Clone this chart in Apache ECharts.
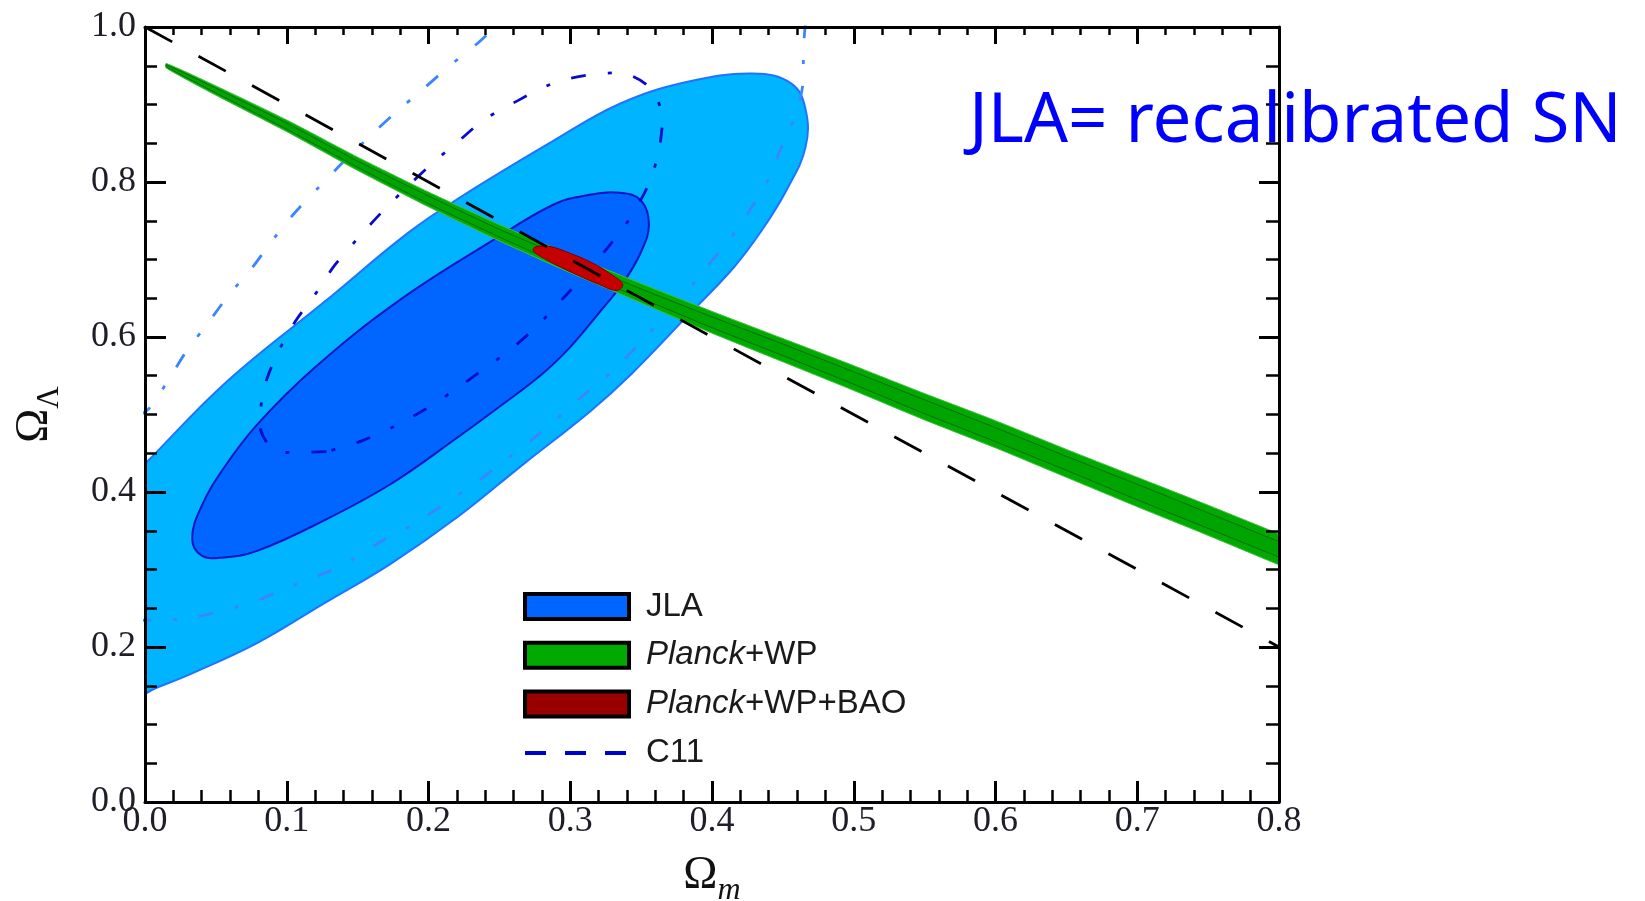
<!DOCTYPE html>
<html>
<head>
<meta charset="utf-8">
<title>Omega_m vs Omega_Lambda</title>
<script src="https://cdn.jsdelivr.net/npm/echarts@6/dist/echarts.min.js"></script>
<style>
  html, body { margin: 0; padding: 0; background: #ffffff; }
  #chart { width: 1645px; height: 901px; }
</style>
</head>
<body>
<div id="chart"></div>
<script>
// Axis ranges (Omega_m along x, Omega_Lambda along y)
const xRange = { min: 0, max: 0.8, step: 0.1 };
const yRange = { min: 0, max: 1.0, step: 0.2 };

// JLA 2-sigma contour (extends past the left edge, clipped by the grid)
const jlaOuter = [
  [-0.03, 0.380], [0.002, 0.440], [0.058, 0.543], [0.127, 0.646], [0.186, 0.735],
  [0.223, 0.781], [0.288, 0.853], [0.335, 0.901], [0.382, 0.929], [0.429, 0.940],
  [0.456, 0.927], [0.466, 0.894], [0.466, 0.845], [0.453, 0.791], [0.436, 0.740],
  [0.415, 0.689], [0.381, 0.624], [0.343, 0.552], [0.314, 0.504], [0.267, 0.436],
  [0.220, 0.367], [0.173, 0.307], [0.126, 0.256], [0.079, 0.205], [0.032, 0.165],
  [0.009, 0.148], [-0.03, 0.120], [-0.06, 0.260]
];

// JLA 1-sigma contour
const jlaInner = [
  [0.0400, 0.318], [0.0333, 0.340], [0.0400, 0.382], [0.0556, 0.431], [0.0791, 0.487],
  [0.1194, 0.560], [0.1784, 0.646], [0.2447, 0.724], [0.2883, 0.771], [0.3118, 0.783],
  [0.3353, 0.786], [0.3500, 0.776], [0.3555, 0.745], [0.3500, 0.710], [0.3377, 0.671],
  [0.3189, 0.628], [0.3000, 0.587], [0.2800, 0.552], [0.2500, 0.510], [0.2202, 0.470],
  [0.1731, 0.410], [0.1260, 0.363], [0.0791, 0.324], [0.0556, 0.3155]
];

// C11 1-sigma contour (closed)
const c11Inner = [
  [0.128, 0.452], [0.100, 0.451], [0.087, 0.462], [0.081, 0.487], [0.084, 0.534],
  [0.093, 0.577], [0.106, 0.620], [0.120, 0.655], [0.134, 0.693], [0.150, 0.727],
  [0.167, 0.761], [0.184, 0.792], [0.202, 0.823], [0.222, 0.854], [0.239, 0.880],
  [0.263, 0.905], [0.286, 0.926], [0.309, 0.937], [0.334, 0.941], [0.356, 0.922],
  [0.365, 0.881], [0.362, 0.836], [0.355, 0.796], [0.342, 0.753], [0.328, 0.719],
  [0.312, 0.684], [0.295, 0.650], [0.277, 0.615], [0.258, 0.584], [0.237, 0.556],
  [0.218, 0.531], [0.198, 0.507], [0.175, 0.484], [0.153, 0.466], [0.128, 0.452]
];

// C11 2-sigma contour: upper-left branch and right/lower branch (leaves the frame at the top)
const c11OuterLeft = [
  [-0.005, 0.498], [0.003, 0.508], [0.016, 0.543], [0.029, 0.581], [0.044, 0.617],
  [0.059, 0.654], [0.075, 0.688], [0.090, 0.725], [0.106, 0.761], [0.123, 0.794],
  [0.140, 0.826], [0.158, 0.858], [0.177, 0.890], [0.195, 0.918], [0.215, 0.950],
  [0.234, 0.978], [0.250, 1.005]
];
const c11OuterRight = [
  [0.466, 1.005], [0.4646, 0.976], [0.4642, 0.929], [0.4587, 0.886], [0.4481, 0.841],
  [0.4399, 0.804], [0.4258, 0.761], [0.4129, 0.727], [0.3953, 0.6885], [0.3824, 0.6585],
  [0.3635, 0.620], [0.348, 0.590], [0.330, 0.556], [0.307, 0.521], [0.291, 0.4956],
  [0.2719, 0.4656], [0.2519, 0.4377], [0.2319, 0.410], [0.2107, 0.384], [0.1896, 0.3585],
  [0.1673, 0.337], [0.1449, 0.3112], [0.125, 0.294], [0.1038, 0.279], [0.0791, 0.260],
  [0.0556, 0.247], [0.0274, 0.2363], [0.0062, 0.235], [-0.005, 0.234]
];

// Planck+WP band: sample positions with 2-sigma and 1-sigma edges
const planckX       = [0.015, 0.05, 0.10, 0.15, 0.20, 0.25, 0.30, 0.35, 0.40, 0.45, 0.50, 0.55, 0.60, 0.65, 0.70, 0.75, 0.80, 0.81];
const planckOuterHi = [0.953, 0.924, 0.880, 0.832, 0.787, 0.745, 0.706, 0.669, 0.633, 0.598, 0.563, 0.527, 0.492, 0.455, 0.419, 0.383, 0.346, 0.339];
const planckOuterLo = [0.947, 0.912, 0.865, 0.815, 0.768, 0.724, 0.683, 0.644, 0.605, 0.568, 0.531, 0.493, 0.457, 0.419, 0.381, 0.344, 0.306, 0.299];
const planckInnerHi = [0.9515, 0.921, 0.876, 0.827, 0.782, 0.739, 0.700, 0.662, 0.626, 0.591, 0.555, 0.519, 0.483, 0.446, 0.410, 0.373, 0.336, 0.329];
const planckInnerLo = [0.9485, 0.915, 0.868, 0.819, 0.772, 0.729, 0.688, 0.650, 0.612, 0.576, 0.539, 0.501, 0.465, 0.428, 0.390, 0.353, 0.316, 0.309];

// Planck+WP+BAO contour
const baoContour = [
  [0.275, 0.716], [0.285, 0.717], [0.300, 0.708], [0.315, 0.696], [0.328, 0.682],
  [0.337, 0.668], [0.333, 0.660], [0.320, 0.668], [0.305, 0.680], [0.290, 0.693],
  [0.280, 0.703], [0.274, 0.711]
];

// Flat universe line, Omega_m + Omega_Lambda = 1
const flatLine = [[0, 1], [0.8, 0.2]];

const legendNames = ['JLA', 'Planck+WP', 'Planck+WP+BAO', 'C11'];
const noteText = 'JLA= recalibrated SN';

// ring built from an upper and a lower edge
function bandRing(xs, hi, lo) {
  const ring = xs.map((x, i) => [x, hi[i]]);
  for (let i = xs.length - 1; i >= 0; i--) ring.push([xs[i], lo[i]]);
  return ring;
}

function areaSeries(name, ring, fill, stroke, width, z, smooth) {
  return {
    name: name,
    type: 'custom',
    coordinateSystem: 'cartesian2d',
    clip: true,
    silent: true,
    z: z,
    itemStyle: { color: fill },
    encode: { x: 0, y: 1 },
    data: ring,
    renderItem: function (params, api) {
      if (params.dataIndex !== 0) return null;
      const pts = ring.map(function (p) { return api.coord(p); });
      return {
        type: 'polygon',
        shape: { points: pts, smooth: smooth },
        style: { fill: fill, stroke: stroke, lineWidth: width }
      };
    }
  };
}

function contourLine(name, pts, color, z) {
  return {
    name: name,
    type: 'line',
    data: pts,
    smooth: 0.3,
    symbol: 'none',
    silent: true,
    clip: true,
    z: z,
    itemStyle: { color: color },
    lineStyle: { color: color, width: 2.8, type: [15, 22, 4, 22] }
  };
}

const serifFont = 'Liberation Serif';
const sansFont = 'Liberation Sans';

function axisCommon(extra) {
  return Object.assign({
    type: 'value',
    z: 20,
    splitLine: { show: false },
    axisLine: { show: true, onZero: false, lineStyle: { color: '#000', width: 3 } },
    axisTick: { show: true, inside: true, length: 21, lineStyle: { color: '#000', width: 3 } },
    minorTick: { show: true, length: 12, lineStyle: { color: '#000', width: 2.5 } },
    minorSplitLine: { show: false }
  }, extra);
}

const chart = echarts.init(document.getElementById('chart'), null, { renderer: 'canvas' });

chart.setOption({
  animation: false,
  backgroundColor: '#ffffff',
  grid: { left: 145, right: 366, top: 27, bottom: 99, containLabel: false, outerBoundsMode: 'none' },
  xAxis: [
    axisCommon({
      position: 'bottom',
      min: xRange.min, max: xRange.max, interval: xRange.step,
      minorTick: { show: true, splitNumber: 5, length: 12, lineStyle: { color: '#000', width: 2.5 } },
      axisLabel: {
        show: true, margin: 2, showMinLabel: true, showMaxLabel: true,
        fontFamily: serifFont, fontSize: 36, color: '#1e1e28',
        formatter: function (v) { return v.toFixed(1); }
      },
      name: '{o|Ω}{s|m}',
      nameLocation: 'middle',
      nameGap: 51,
      nameTextStyle: {
        rich: {
          o: { fontFamily: serifFont, fontSize: 46, lineHeight: 46, color: '#111', verticalAlign: 'top' },
          s: { fontFamily: serifFont, fontSize: 32, fontStyle: 'italic', lineHeight: 32, color: '#111', verticalAlign: 'top', padding: [22, 0, 0, 0] }
        }
      }
    }),
    axisCommon({
      position: 'top',
      min: xRange.min, max: xRange.max, interval: xRange.step,
      axisTick: { show: true, inside: true, length: 17, lineStyle: { color: '#000', width: 3 } },
      minorTick: { show: true, splitNumber: 5, length: 8, lineStyle: { color: '#000', width: 2.5 } },
      axisLabel: { show: false }
    })
  ],
  yAxis: [
    axisCommon({
      position: 'left',
      min: yRange.min, max: yRange.max, interval: yRange.step,
      minorTick: { show: true, splitNumber: 4, length: 12, lineStyle: { color: '#000', width: 2.5 } },
      axisLabel: {
        show: true, margin: 9, showMinLabel: true, showMaxLabel: true,
        fontFamily: serifFont, fontSize: 36, color: '#1e1e28',
        formatter: function (v) { return v.toFixed(1); }
      },
      name: '{o|Ω}{s|Λ}',
      nameLocation: 'middle',
      nameGap: 87,
      nameTextStyle: {
        rich: {
          o: { fontFamily: serifFont, fontSize: 46, lineHeight: 46, color: '#111', verticalAlign: 'top' },
          s: { fontFamily: serifFont, fontSize: 31, lineHeight: 31, color: '#111', verticalAlign: 'top', padding: [22, 0, 0, 0] }
        }
      }
    }),
    axisCommon({
      position: 'right',
      min: yRange.min, max: yRange.max, interval: yRange.step,
      axisTick: { show: true, inside: true, length: 20, lineStyle: { color: '#000', width: 3 } },
      minorTick: { show: true, splitNumber: 4, length: 13, lineStyle: { color: '#000', width: 2.5 } },
      axisLabel: { show: false }
    })
  ],
  legend: {
    orient: 'vertical',
    left: 523,
    top: 590,
    padding: 0,
    itemWidth: 104,
    itemHeight: 25,
    itemGap: 15.8,
    selectedMode: false,
    data: [
      { name: legendNames[0], icon: 'rect', itemStyle: { color: '#0066ff', borderColor: '#000', borderWidth: 4 } },
      { name: legendNames[1], icon: 'rect', itemStyle: { color: '#00aa00', borderColor: '#000', borderWidth: 4 } },
      { name: legendNames[2], icon: 'rect', itemStyle: { color: '#990000', borderColor: '#000', borderWidth: 4 } },
      { name: legendNames[3], itemStyle: { opacity: 0 }, lineStyle: { color: '#0000cc', width: 4, type: [21, 19] } }
    ],
    formatter: function (name) {
      if (name.indexOf('Planck') === 0) return '{gap| }{it|Planck}{tx|' + name.slice(6) + '}';
      return '{gap| }{tx|' + name + '}';
    },
    textStyle: {
      fontFamily: sansFont, fontSize: 33, lineHeight: 25, color: '#1a1a1a',
      rich: {
        gap: { width: 12, fontSize: 33, lineHeight: 25 },
        it: { fontFamily: sansFont, fontSize: 33, lineHeight: 25, fontStyle: 'italic', color: '#1a1a1a' },
        tx: { fontFamily: sansFont, fontSize: 33, lineHeight: 25, color: '#1a1a1a' }
      }
    }
  },
  graphic: [
    {
      type: 'text',
      left: 969,
      top: 88,
      z: 30,
      style: { text: noteText, fontFamily: 'Noto Sans', fontSize: 69, fill: '#0000ff' }
    }
  ],
  series: [
    areaSeries('JLA', jlaOuter, '#00b4ff', '#1f74ff', 2, 3, 0.4),
    areaSeries('JLA', jlaInner, '#0066ff', '#1212c6', 2, 4, 0.4),
    contourLine('C11', c11Inner, '#0a0acc', 5),
    contourLine('C11', c11OuterLeft, '#3a86ff', 5),
    contourLine('C11', c11OuterRight, '#3a86ff', 5),
    areaSeries('Planck+WP', bandRing(planckX, planckOuterHi, planckOuterLo), '#00aa00', '#40c040', 1, 6, 0.2),
    areaSeries('Planck+WP', bandRing(planckX, planckInnerHi, planckInnerLo), '#00a400', '#106a10', 1, 7, 0.2),
    areaSeries('Planck+WP+BAO', baoContour, '#c40000', '#7d0000', 1, 8, 0.4),
    {
      name: 'flat',
      type: 'line',
      data: flatLine,
      symbol: 'none',
      silent: true,
      clip: true,
      z: 9,
      lineStyle: { color: '#000', width: 2.8, type: [31, 30] }
    }
  ]
});
</script>
</body>
</html>
